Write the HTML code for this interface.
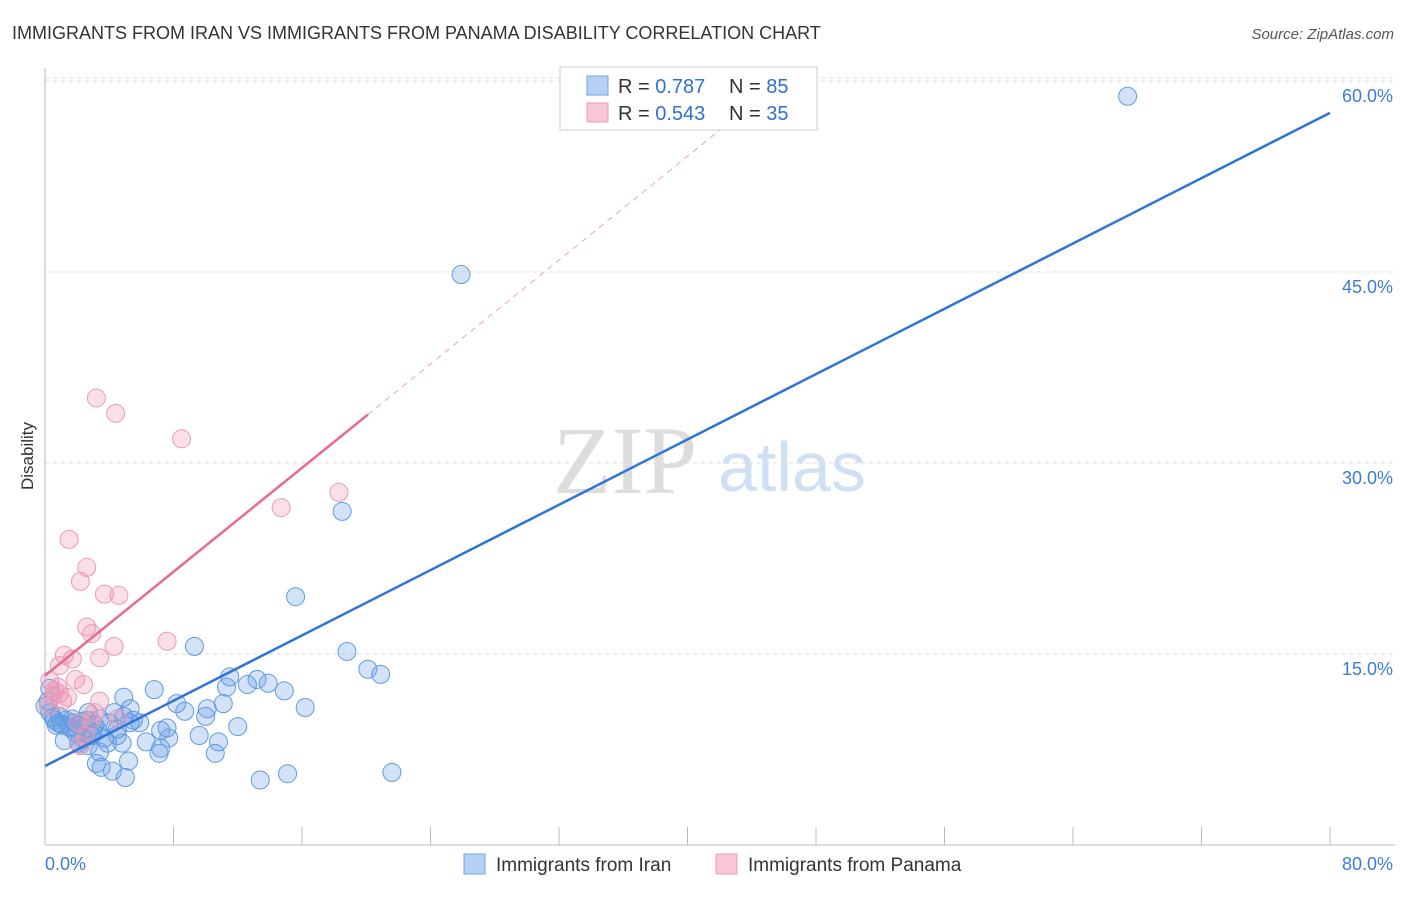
<!DOCTYPE html>
<html><head><meta charset="utf-8"><style>
body{margin:0;background:#fff;font-family:"Liberation Sans",sans-serif;}
</style></head><body>
<svg id="chart" width="1406" height="892" font-family="Liberation Sans, sans-serif">
<text x="12" y="39" font-size="18" fill="#333">IMMIGRANTS FROM IRAN VS IMMIGRANTS FROM PANAMA DISABILITY CORRELATION CHART</text>
<text x="1394" y="39" font-size="15" fill="#555" font-style="italic" text-anchor="end">Source: ZipAtlas.com</text>
<text transform="translate(33,456) rotate(-90)" font-size="17" fill="#333" text-anchor="middle">Disability</text>
<g><text x="553" y="493" font-size="96" fill="#ddd" style="font-family:'Liberation Serif',serif">ZIP</text><text x="718" y="491" font-size="70" fill="#cfe0f5">atlas</text></g>
<g id="grid"></g><g id="axes"></g><g id="pts"></g><g id="lines"></g>
<g>
<rect x="560" y="67" width="257" height="63" fill="#fff" stroke="#ccc"/>
<rect x="587" y="76" width="21" height="19" fill="#b6d1f3" stroke="#6fa3e3"/>
<rect x="587" y="103" width="21" height="19" fill="#f8c6d5" stroke="#ec9bb6"/>
<text x="618" y="93" font-size="20" fill="#333">R = <tspan fill="#2f6fd6">0.787</tspan></text>
<text x="729" y="93" font-size="20" fill="#333">N = <tspan fill="#2f6fd6">85</tspan></text>
<text x="618" y="120" font-size="20" fill="#333">R = <tspan fill="#2f6fd6">0.543</tspan></text>
<text x="729" y="120" font-size="20" fill="#333">N = <tspan fill="#2f6fd6">35</tspan></text>
</g>
<g>
<rect x="464" y="854" width="21" height="20" fill="#b6d1f3" stroke="#6fa3e3"/>
<text x="496" y="871" font-size="19" fill="#333">Immigrants from Iran</text>
<rect x="716" y="854" width="21" height="20" fill="#f8c6d5" stroke="#ec9bb6"/>
<text x="748" y="871" font-size="19" fill="#333">Immigrants from Panama</text>
</g>
</svg>
<script>
const iranX=[67.4,25.9,18.5,15.6,18.8,9.3,20.1,20.9,11.5,13.2,13.9,12.6,14.9,11.3,6.8,8.2,8.7,11.1,10.1,16.2,10.0,12.0,7.6,9.6,10.8,7.7,6.3,7.2,7.1,10.6,21.6,15.1,13.4,4.9,3.2,4.2,5.0,3.5,5.2,3.4,2.2,1.2,3.9,4.8,4.5,5.9,5.3,4.3,5.3,4.9,2.7,1.7,0.6,0.3,0.8,1.1,1.3,2.1,2.6,3.1,3.4,2.8,3.3,2.4,2.1,4.0,4.5,0.2,0.3,5.5,7.2,1.6,3.7,0.9,1.9,2.7,0.0,1.0,0.5,1.5,2.3,3.0,0.7,1.8,2.9];
const iranY=[58.8,44.8,26.2,19.5,15.2,15.6,13.8,13.4,13.2,13.0,12.7,12.6,12.1,12.4,12.2,11.1,10.5,11.1,10.7,10.8,10.1,9.3,9.2,8.6,8.1,8.4,8.1,7.6,7.2,7.2,5.7,5.6,5.1,11.6,6.4,5.8,5.3,6.1,6.6,7.3,7.8,8.2,8.0,8.0,8.6,9.6,9.6,10.4,10.7,10.1,10.4,9.9,9.8,10.4,9.6,9.4,9.8,9.4,9.8,9.4,9.9,8.6,9.0,8.3,8.0,9.6,9.1,11.3,12.3,9.8,9.0,9.2,8.4,10.1,8.8,7.8,10.9,9.5,10.0,9.3,9.7,8.8,9.4,9.6,8.6];
const panX=[3.2,4.4,8.5,18.3,14.7,1.5,2.6,2.2,3.7,4.6,2.6,2.9,7.6,4.3,3.4,1.2,1.7,0.9,1.9,2.4,0.3,0.6,0.9,0.5,1.4,0.2,3.4,3.1,2.1,4.5,2.5,2.2,0.8,1.1,2.9];
const panY=[35.1,33.9,31.9,27.7,26.5,24.0,21.8,20.7,19.7,19.6,17.1,16.6,16.0,15.6,14.7,14.9,14.6,14.1,13.0,12.6,12.9,12.1,11.9,11.7,11.6,10.9,11.3,10.4,9.6,9.9,8.6,7.8,12.4,11.3,9.8];
const iranLine=[6.2,57.5];
const panLine=[13.3,33.8,20.1];
const yTicks=[15,30,45,60];
const yTickLabels=["15.0%","30.0%","45.0%","60.0%"];
const xEndLabels=["0.0%","80.0%"];
const NS="http://www.w3.org/2000/svg";
const X=v=>45+v*1285/80;
const Y=v=>845-v*191/15;
function mk(t,a,p){const e=document.createElementNS(NS,t);for(const k in a)e.setAttribute(k,a[k]);p.appendChild(e);return e;}
const grid=document.getElementById('grid'),axes=document.getElementById('axes'),pts=document.getElementById('pts'),lines=document.getElementById('lines');
yTicks.forEach((t,i)=>{
 const l=mk('line',{x1:45,x2:1395,y1:Y(t),y2:Y(t),stroke:'#ddd','stroke-dasharray':'4,4'},grid);
 
 
 const tx=mk('text',{x:1393,y:Y(t)+21,'font-size':18,fill:'#3d7bd9','text-anchor':'end'},axes);
 tx.textContent=yTickLabels[i];
 
 
});
const topLine=mk('line',{x1:45,x2:1395,y1:78,y2:78,stroke:'#ddd','stroke-dasharray':'4,4'},grid);


const ya=mk('line',{x1:45,x2:45,y1:68,y2:845,stroke:'#bbb'},axes);


const xa=mk('line',{x1:45,x2:1395,y1:845,y2:845,stroke:'#bbb'},axes);


for(let i=0;i<=10;i++){const tk=mk('line',{x1:X(i*8),x2:X(i*8),y1:827,y2:845,stroke:'#bbb'},axes);
 
 }
const xl0=mk('text',{x:45,y:870,'font-size':18,fill:'#3d7bd9'},axes);xl0.textContent=xEndLabels[0];


const xl1=mk('text',{x:1393,y:870,'font-size':18,fill:'#3d7bd9','text-anchor':'end'},axes);xl1.textContent=xEndLabels[1];


iranX.forEach((v,i)=>{const c=mk('circle',{cx:X(v),cy:Y(iranY[i]),r:9,fill:'rgba(110,160,230,0.3)',stroke:'#5d9be2','stroke-width':1},pts);
 
 });
panX.forEach((v,i)=>{const c=mk('circle',{cx:X(v),cy:Y(panY[i]),r:9,fill:'rgba(240,150,180,0.3)',stroke:'#ea9ab5','stroke-width':1},pts);
 
 });
const bl=mk('line',{x1:X(0),y1:Y(iranLine[0]),x2:X(80),y2:Y(iranLine[1]),stroke:'#2f74d6','stroke-width':2.5},lines);


const slope=(panLine[1]-panLine[0])/panLine[2];
const pl=mk('line',{x1:X(0),y1:Y(panLine[0]),x2:X(panLine[2]),y2:Y(panLine[1]),stroke:'#e86a93','stroke-width':2.5},lines);


const xe=45;
const pd=mk('line',{x1:X(panLine[2]),y1:Y(panLine[1]),x2:X(xe),y2:Y(panLine[0]+slope*xe),stroke:'#eaa3ba','stroke-width':1,'stroke-dasharray':'6,5'},lines);


</script>
</body></html>
